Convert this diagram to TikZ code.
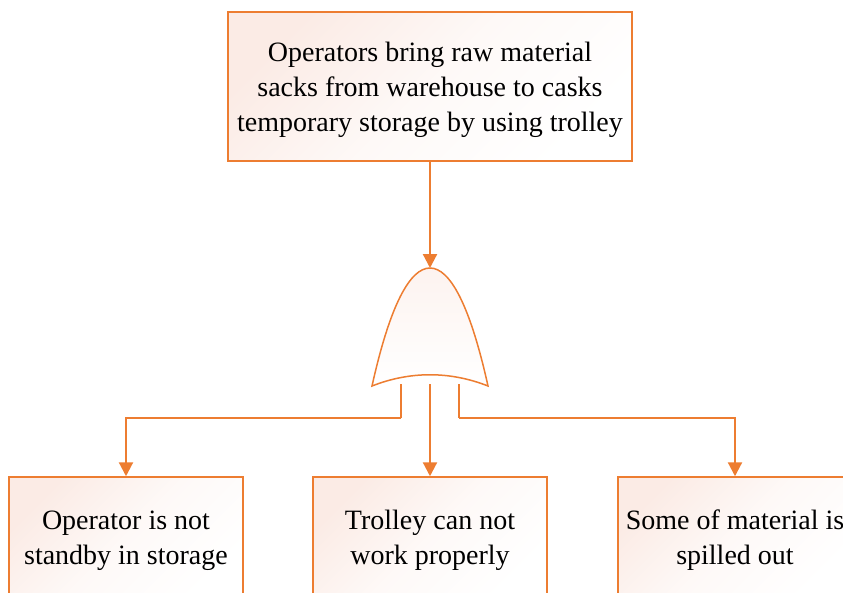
\documentclass[tikz,border=0pt]{standalone}
\usepackage{fontspec}
\setmainfont{Liberation Serif}
\usetikzlibrary{arrows.meta}
\definecolor{lineorange}{RGB}{237,125,49}
\definecolor{boxpink}{RGB}{251,235,229}
\tikzset{
  eventbox/.style={draw=lineorange, line width=1.5pt, rectangle,
    top color=boxpink, bottom color=white, middle color=white!70!boxpink,
    shading angle=45, inner sep=0pt},
  eventtext/.style={font=\fontsize{28}{35}\selectfont, align=center,
    yshift=-3.5pt, inner sep=0pt},
  link/.style={draw=lineorange, line width=2.2pt,
    -{Triangle[length=14pt,width=14pt]}},
  plainlink/.style={draw=lineorange, line width=2.2pt},
  gatestyle/.style={draw=lineorange, line width=1.5pt,
    top color=boxpink!60, bottom color=white}
}
\begin{document}
\begin{tikzpicture}[x=1pt, y=-1pt]
\useasboundingbox (0,0) rectangle (843,592);
\fill[white] (0,0) rectangle (843,592);

% top event
\node[eventbox, minimum width=404pt, minimum height=149pt,
  label={[eventtext]center:Operators bring raw material\\sacks from warehouse to casks\\temporary storage by using trolley}]
  (top) at (430,86.5) {};

% basic events
\node[eventbox, minimum width=234pt, minimum height=120pt,
  label={[eventtext]center:Operator is not\\standby in storage}]
  (b1) at (126,537) {};
\node[eventbox, minimum width=234pt, minimum height=120pt,
  label={[eventtext]center:Trolley can not\\work properly}]
  (b2) at (430,537) {};
\node[eventbox, minimum width=234pt, minimum height=120pt,
  label={[eventtext]center:Some of material is\\spilled out}]
  (b3) at (735,537) {};

% OR gate reference points
\coordinate (gtop) at (430,268);
\coordinate (gl) at (401,384);
\coordinate (gc) at (430,384);
\coordinate (gr) at (459,384);
\coordinate (jl) at (401,418);
\coordinate (jr) at (459,418);

% connectors
\draw[link] (top.south) -- (gtop);
\draw[plainlink] (gl) -- (jl);
\draw[link] (jl) -| (b1.north);
\draw[link] (gc) -- (b2.north);
\draw[plainlink] (gr) -- (jr);
\draw[link] (jr) -| (b3.north);

% OR gate
\path[gatestyle] (372,386) .. controls (390,305) and (410,268) .. (gtop)
  .. controls (450,268) and (470,305) .. (488,386)
  .. controls (450,371) and (410,371) .. cycle;
\end{tikzpicture}
\end{document}
